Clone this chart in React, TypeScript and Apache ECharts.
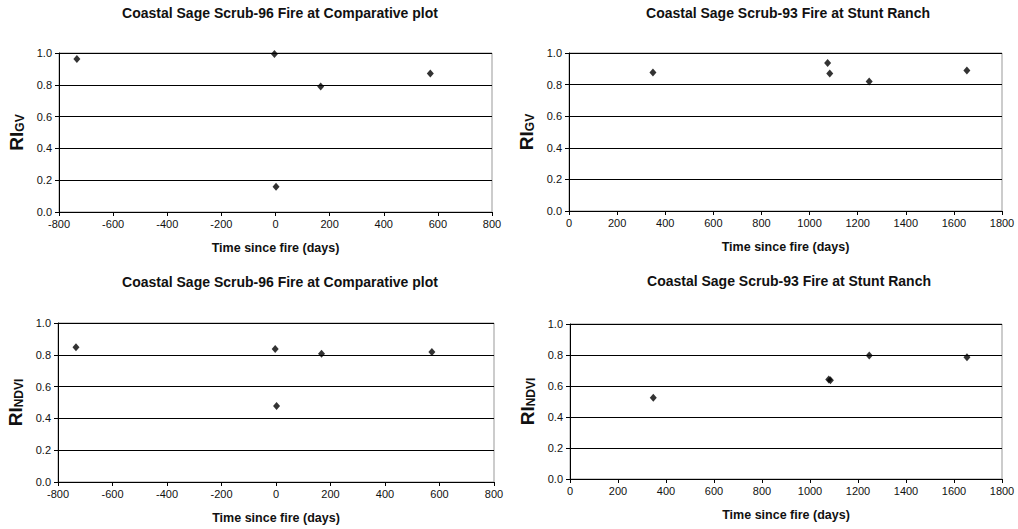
import React, { useEffect, useRef } from "react";
import * as echarts from "echarts";

const titles = [
  "Coastal Sage Scrub-96 Fire at Comparative plot",
  "Coastal Sage Scrub-93 Fire at Stunt Ranch",
  "Coastal Sage Scrub-96 Fire at Comparative plot",
  "Coastal Sage Scrub-93 Fire at Stunt Ranch",
];
const xAxisTitle = "Time since fire (days)";
const yMain = "RI";
const ySubs = ["GV", "GV", "NDVI", "NDVI"];

const gvComparative: [number, number][] = [
  [-734, 0.962],
  [-4, 0.994],
  [2, 0.159],
  [167, 0.789],
  [572, 0.871],
];
const gvStunt: [number, number][] = [
  [349, 0.877],
  [1075, 0.936],
  [1084, 0.871],
  [1248, 0.82],
  [1654, 0.89],
];
const ndviComparative: [number, number][] = [
  [-734, 0.848],
  [-3, 0.836],
  [2, 0.478],
  [167, 0.806],
  [572, 0.817],
];
const ndviStunt: [number, number][] = [
  [347, 0.524],
  [1078, 0.642],
  [1085, 0.637],
  [1247, 0.796],
  [1654, 0.785],
];
const seriesData = [gvComparative, gvStunt, ndviComparative, ndviStunt];
const xRanges: [number, number][] = [
  [-800, 800],
  [0, 1800],
  [-800, 800],
  [0, 1800],
];

const grids = [
  { left: 59, top: 53, width: 433, height: 159 },
  { left: 569, top: 53, width: 433, height: 158 },
  { left: 58, top: 323, width: 436, height: 159 },
  { left: 570, top: 324, width: 432, height: 155 },
];
const titlePos = [
  [280, 13],
  [788, 13],
  [280, 282],
  [789, 281],
];

const FONT = "'Liberation Sans', Arial, sans-serif";

export default function App() {
  const ref = useRef<HTMLDivElement>(null);
  useEffect(() => {
    if (!ref.current) return;
    const chart = echarts.init(ref.current, undefined, { renderer: "svg" });
    const option: any = {
      animation: false,
      backgroundColor: "#fff",
      textStyle: { fontFamily: FONT },
      grid: grids.map((g) => ({
        ...g,
        show: true,
        borderColor: "#999",
        borderWidth: 1,
        containLabel: false,
      })),
      xAxis: xRanges.map((r, i) => ({
        type: "value",
        gridIndex: i,
        min: r[0],
        max: r[1],
        interval: 200,
        name: xAxisTitle,
        nameLocation: "middle",
        nameGap: 29,
        nameTextStyle: { fontSize: 12.5, fontWeight: "bold", color: "#111", fontFamily: FONT },
        axisLine: { show: true, onZero: false, lineStyle: { color: "#000", width: 1 } },
        axisTick: { show: true, length: 4, lineStyle: { color: "#000" } },
        axisLabel: {
          fontSize: 11,
          color: "#111",
          margin: 6,
          fontFamily: FONT,
          formatter: (v: number) => String(v),
        },
        splitLine: { show: false },
      })),
      yAxis: ySubs.map((s, i) => ({
        type: "value",
        gridIndex: i,
        min: 0,
        max: 1,
        interval: 0.2,
        name: `{a|${yMain}}{b|${s}}`,
        nameLocation: "middle",
        nameRotate: 90,
        nameGap: 33,
        nameTextStyle: {
          rich: {
            a: { fontSize: 19, fontWeight: "bold", color: "#111", fontFamily: FONT },
            b: { fontSize: 12, fontWeight: "bold", color: "#111", fontFamily: FONT, verticalAlign: "bottom", padding: [6, 0, 0, 0] },
          },
        },
        axisLine: { show: true, onZero: false, lineStyle: { color: "#000", width: 1 } },
        axisTick: { show: true, length: 4, lineStyle: { color: "#000" } },
        axisLabel: {
          fontSize: 11,
          color: "#111",
          margin: 7,
          fontFamily: FONT,
          formatter: (v: number) => v.toFixed(1),
        },
        splitLine: { show: true, lineStyle: { color: "#000", width: 1 } },
      })),
      series: seriesData.map((d, i) => ({
        type: "scatter",
        xAxisIndex: i,
        yAxisIndex: i,
        data: d,
        symbol: "diamond",
        symbolSize: [7, 8],
        itemStyle: { color: "#000" },
      })),
      graphic: titles.map((t, i) => ({
        type: "text",
        x: titlePos[i][0],
        y: titlePos[i][1],
        style: {
          text: t,
          align: "center",
          verticalAlign: "middle",
          fontSize: 14,
          fontWeight: "bold",
          fill: "#111",
          fontFamily: FONT,
        },
      })),
    };
    chart.setOption(option);
    return () => chart.dispose();
  }, []);
  return (
    <div
      ref={ref}
      style={{ position: "fixed", left: 0, top: 0, width: 1018, height: 529, background: "#fff" }}
    />
  );
}
